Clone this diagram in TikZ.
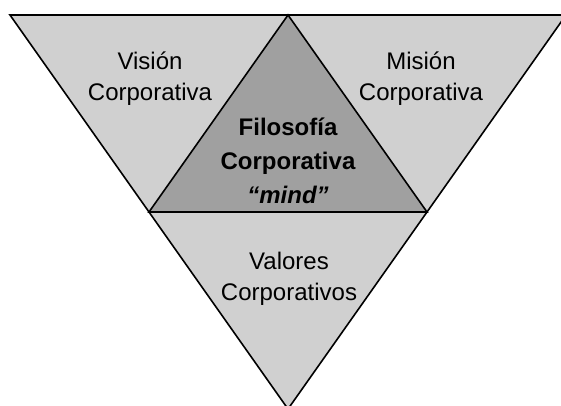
\documentclass[tikz,border=0pt]{standalone}
\usepackage{fontspec}
\setmainfont{Liberation Sans}
\usepackage{tikz}
\usetikzlibrary{calc}

\definecolor{lightgrey}{RGB}{208,208,208}
\definecolor{midgrey}{RGB}{160,160,160}

\begin{document}
\begin{tikzpicture}[x=1pt,y=-1pt,
    outer_tri/.style={fill=lightgrey,draw=black,line width=1.6pt,line join=miter},
    inner_tri/.style={fill=midgrey,draw=black,line width=1.6pt},
    side_text/.style={align=center,font=\fontsize{24}{31}\selectfont},
    mid_text/.style={align=center,font=\fontsize{24}{34}\selectfont\bfseries}]

    \useasboundingbox (0,0) rectangle (561,405);
    \clip (0,0) rectangle (561,405);

    \coordinate (tl) at (10,15);
    \coordinate (tr) at (566,15);
    \coordinate (bt) at (288,409);
    \coordinate (ap) at ($(tl)!0.5!(tr)$);
    \coordinate (ml) at ($(tl)!0.5!(bt)$);
    \coordinate (mr) at ($(tr)!0.5!(bt)$);

    \draw[outer_tri] (tl) -- (tr) -- (bt) -- cycle;
    \draw[inner_tri] (ap) -- (ml) -- (mr) -- cycle;

    \node[side_text] (vision) at (150,79) {Visión\\Corporativa};
    \node[side_text] (mision) at (421,79) {Misión\\Corporativa};
    \node[mid_text] (filosofia) at (288,161) {Filosofía\\Corporativa\\\textit{“mind”}};
    \node[side_text] (valores) at (289,279) {Valores\\Corporativos};
\end{tikzpicture}
\end{document}
